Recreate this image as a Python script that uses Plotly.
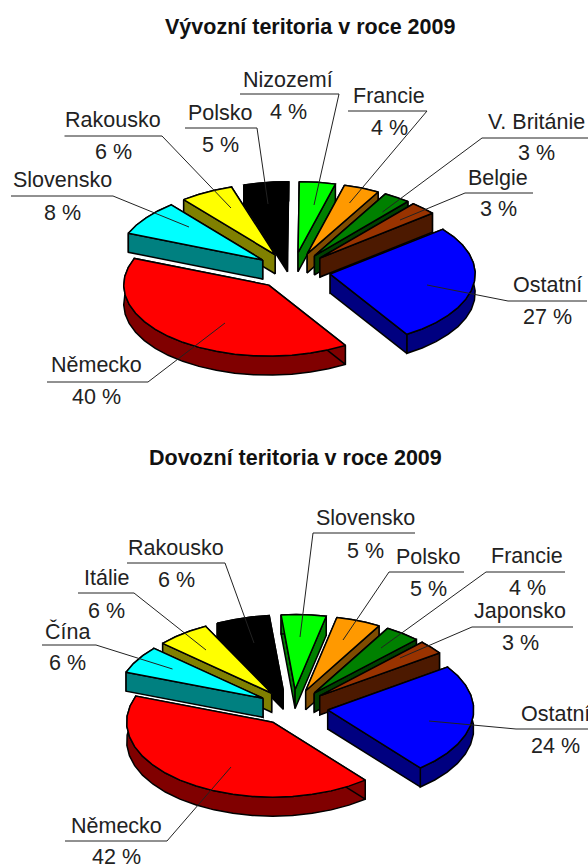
import numpy as np
import plotly.graph_objects as go

# ---- data ----
export_names = ["Nizozemí", "Francie", "V. Británie", "Belgie", "Ostatní", "Německo", "Slovensko", "Rakousko", "Polsko"]
export_values = [4, 4, 3, 3, 27, 40, 8, 6, 5]
import_names = ["Slovensko", "Polsko", "Francie", "Japonsko", "Ostatní", "Německo", "Čína", "Itálie", "Rakousko"]
import_values = [5, 5, 4, 3, 24, 42, 6, 6, 6]
export_title = "Vývozní teritoria v roce 2009"
import_title = "Dovozní teritoria v roce 2009"

# ---- styles ----
top_colors = ["#00FF00", "#FF9900", "#008000", "#993300", "#0000FF", "#FF0000", "#00FFFF", "#FFFF00", "#000000"]
wall_colors = ["#008000", "#7F4C00", "#004000", "#4C1900", "#000080", "#800000", "#008080", "#808000", "#000000"]
TEXT = "#222222"
FONT = "Liberation Sans"
LABEL_SIZE = 21.5
TITLE_SIZE = 21.5

# pie geometry: centre x, centre y, rx, ry, depth, explode, start angle
geom_export = dict(cx=293, cy=271, rx=145, ry=71, depth=19, e=0.26, start=0.5)
geom_import = dict(cx=293, cy=707.5, rx=146, ry=75, depth=19, e=0.24, start=-5.5)

# label layout: text x, name y, pct y, underline x0, x1, y, leader-from x, anchor x, anchor y
layout_export = [
    (288, 80, 112, 240, 339, 94, 339, 314, 205),
    (389, 96, 128, 348, 427, 111, 427, 349.5, 203),
    (536, 122, 153, 482, 588, 138, 482, 382.5, 212),
    (498, 178, 209, 465, 533, 193, 465, 400, 220),
    (547, 285, 317, 508, 587, 301, 508, 427, 285),
    (96, 365, 397, 47, 148, 382, 148, 225, 323),
    (62, 180, 213, 11, 113, 196, 113, 189, 227),
    (113, 120, 152, 64.5, 162, 136, 162, 231, 208),
    (220, 113, 145, 185, 257, 128, 257, 268, 204),
]
layout_import = [
    (365, 518, 551, 313, 415, 533, 313, 300, 637),
    (428, 557, 589, 389, 464, 572, 389, 343, 640),
    (527, 556, 588, 486, 565, 572, 486, 381, 648),
    (520, 611, 643, 472, 573, 627, 472, 400, 658),
    (555, 714, 746, 516, 588, 729, 516, 429, 721),
    (116, 826, 857, 65, 167, 841, 167, 231, 767),
    (67, 631, 663, 42, 96, 645, 96, 172.5, 669),
    (106, 578, 611, 78, 134, 593, 134, 206, 650),
    (176, 548, 580, 127, 225, 563, 225, 254, 643),
]

fig = go.Figure()


def poly(xs, ys, fill, lw=1.5):
    fig.add_trace(go.Scatter(x=list(xs), y=list(ys), mode="lines", fill="toself",
                             fillcolor=fill, line=dict(color="#000000", width=lw),
                             hoverinfo="skip", showlegend=False))


def draw_pie(values, tops, walls, g):
    v = np.array(values, dtype=float)
    edges = g["start"] + np.concatenate([[0], np.cumsum(v / v.sum() * 360)])
    slices = []
    for i in range(len(v)):
        slices.append((edges[i], edges[i + 1], tops[i], walls[i]))
    slices.sort(key=lambda s: -np.cos(np.radians((s[0] + s[1]) / 2)))
    for a, b, top, wall in slices:
        mid = np.radians((a + b) / 2)
        ax = g["cx"] + g["e"] * g["rx"] * np.sin(mid)
        ay = g["cy"] - g["e"] * g["ry"] * np.cos(mid)
        n = max(2, int(np.ceil((b - a) / 8)) + 1)
        th = np.radians(np.linspace(a, b, n))
        rx_ = ax + g["rx"] * np.sin(th)
        ry_ = ay - g["ry"] * np.cos(th)
        d = g["depth"]

        def radial(k):
            poly([ax, rx_[k], rx_[k], ax, ax], [ay, ry_[k], ry_[k] + d, ay + d, ay], wall)

        # on the left half the leading edge faces the viewer, on the right half the trailing one
        hidden, shown = (-1, 0) if np.sin(mid) < 0 else (0, -1)
        radial(hidden)
        poly(list(rx_) + list(rx_[::-1]) + [rx_[0]],
             list(ry_) + list(ry_[::-1] + d) + [ry_[0]], wall)
        radial(shown)
        poly([ax] + list(rx_) + [ax], [ay] + list(ry_) + [ay], top)


def leaders(layout):
    for t in layout:
        tx, ny, py, u0, u1, uy, fx, ax, ay = t
        fig.add_trace(go.Scatter(x=[u0, u1, None, fx, ax], y=[uy, uy, None, uy, ay], mode="lines",
                                 line=dict(color=TEXT, width=1), hoverinfo="skip", showlegend=False))


def labels(names, values, layout):
    for name, val, t in zip(names, values, layout):
        tx, ny, py = t[:3]
        fig.add_annotation(x=tx, y=ny, text=name, showarrow=False, xanchor="center", yanchor="middle",
                           font=dict(family=FONT, size=LABEL_SIZE, color=TEXT))
        fig.add_annotation(x=tx, y=py, text=f"{val} %", showarrow=False, xanchor="center", yanchor="middle",
                           font=dict(family=FONT, size=LABEL_SIZE, color=TEXT))


draw_pie(export_values, top_colors, wall_colors, geom_export)
draw_pie(import_values, top_colors, wall_colors, geom_import)
leaders(layout_export)
leaders(layout_import)
labels(export_names, export_values, layout_export)
labels(import_names, import_values, layout_import)

for title, x, y in [(export_title, 310, 27), (import_title, 295, 458)]:
    fig.add_annotation(x=x, y=y, text=f"<b>{title}</b>", showarrow=False, xanchor="center", yanchor="middle",
                       font=dict(family=FONT, size=TITLE_SIZE, color="#111111"))

fig.update_layout(width=588, height=865, margin=dict(l=0, r=0, t=0, b=0),
                  paper_bgcolor="white", plot_bgcolor="white", showlegend=False,
                  xaxis=dict(range=[0, 588], visible=False, fixedrange=True),
                  yaxis=dict(range=[865, 0], visible=False, fixedrange=True))
fig.write_html("out.html", config=dict(displayModeBar=False),
               post_script="document.body.style.margin='0';document.body.style.overflow='hidden';")
